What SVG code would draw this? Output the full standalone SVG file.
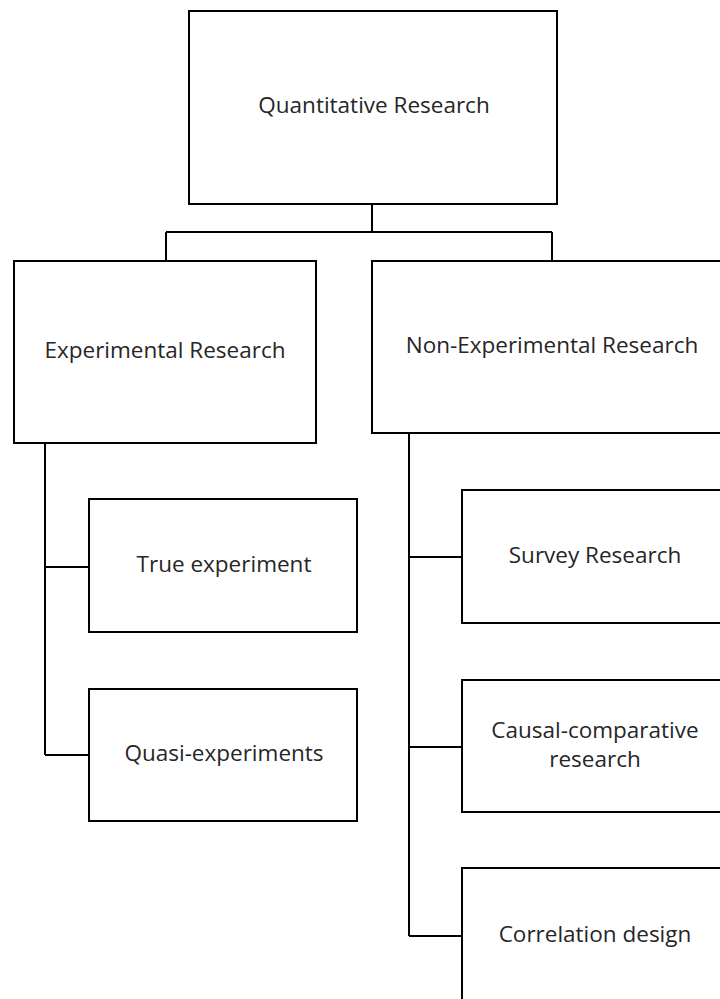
<svg xmlns="http://www.w3.org/2000/svg" width="720" height="999" viewBox="0 0 720 999">
  <style>
    .box { fill: #ffffff; stroke: #000000; stroke-width: 2; }
    .lbl { font-family: "Open Sans", "Liberation Sans", sans-serif; font-size: 22.5px; fill: #262626; text-anchor: middle; }
    .wire { fill: none; stroke: #000000; stroke-width: 2; }
  </style>
  <rect width="720" height="999" fill="#ffffff"/>

  <!-- connectors -->
  <g id="connectors">
    <path class="wire" d="M372 204 V232 M166 232 H552 M166 232 V261 M552 232 V261"/>
    <path class="wire" d="M45 443 V755 M45 567 H89 M45 755 H89"/>
    <path class="wire" d="M409 433 V936 M409 557 H462 M409 747 H462 M409 936 H462"/>
  </g>

  <g id="quantitative">
    <rect class="box" x="189" y="11" width="368" height="193"/>
    <text class="lbl" x="374" y="113">Quantitative Research</text>
  </g>

  <g id="experimental">
    <rect class="box" x="14" y="261" width="302" height="182"/>
    <text class="lbl" x="165" y="358">Experimental Research</text>
  </g>

  <g id="non-experimental">
    <rect class="box" x="372" y="261" width="360" height="172"/>
    <text class="lbl" x="552" y="353">Non-Experimental Research</text>
  </g>

  <g id="true-experiment">
    <rect class="box" x="89" y="499" width="268" height="133"/>
    <text class="lbl" x="224" y="572">True experiment</text>
  </g>

  <g id="quasi-experiments">
    <rect class="box" x="89" y="689" width="268" height="132"/>
    <text class="lbl" x="224" y="761">Quasi-experiments</text>
  </g>

  <g id="survey">
    <rect class="box" x="462" y="490" width="266" height="133"/>
    <text class="lbl" x="595" y="563">Survey Research</text>
  </g>

  <g id="causal-comparative">
    <rect class="box" x="462" y="680" width="266" height="132"/>
    <text class="lbl" x="595" y="738">Causal-comparative</text>
    <text class="lbl" x="595" y="767">research</text>
  </g>

  <g id="correlation">
    <rect class="box" x="462" y="868" width="266" height="140"/>
    <text class="lbl" x="595" y="942">Correlation design</text>
  </g>
</svg>
